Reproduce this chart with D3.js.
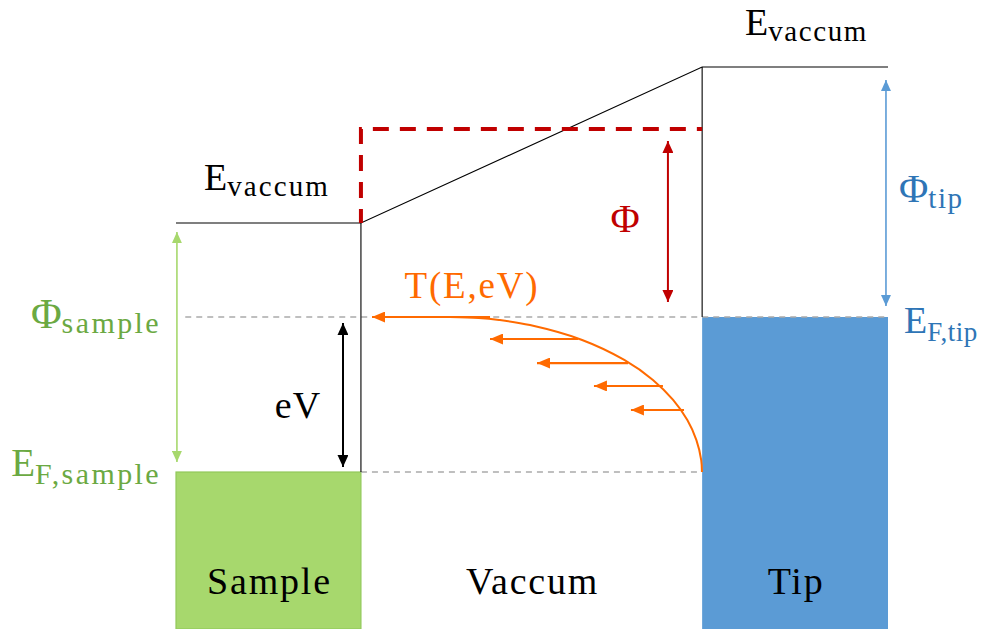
<!DOCTYPE html>
<html><head><meta charset="utf-8">
<script src="https://cdn.jsdelivr.net/npm/d3@7"></script>
<style>
html,body{margin:0;padding:0;background:#fff;}
svg{display:block;}
</style></head>
<body>
<script>
// ---- data ----
const regions = ["Sample", "Vaccum", "Tip"];
const regionEdges = [0, 1, 2.845, 3.85];          // position (arb. units)
const fermiLevels = [0, 1];                       // E_F sample, E_F tip (eV units)
const vacuumLevels = [1.606, 2.613];              // E_vac sample, E_vac tip
const barrierLevel = 2.213;                       // average barrier (dashed)
const bandBottom = -1.013;
const curveX = [2.844, 2.840, 2.814, 2.765, 2.688, 2.579, 2.424, 2.196, 1.914, 1.747, 1.636, 1.482];
const curveE = [0, 0.077, 0.206, 0.335, 0.465, 0.594, 0.723, 0.852, 0.948, 0.981, 0.994, 1.0];
const arrowE = [1.0, 0.858, 0.703, 0.555, 0.4];
const arrowStart = [1.698, 2.174, 2.444, 2.633, 2.747];
const arrowEnd = [1.06, 1.698, 1.952, 2.260, 2.460];
const gapArrowNames = ["sample", "phi", "tip", "eV"];
const gapArrowX = [0.005, 2.660, 3.839, 0.903];
const gapArrowFrom = [0, 1, 1, 0];
const gapArrowTo = [1.606, 2.213, 2.613, 1];

const W = 1005, H = 629;
const FONT = "'Liberation Serif', 'DejaVu Serif', serif";
const x = d3.scaleLinear().domain([0, 3.85]).range([176, 888]);
const y = d3.scaleLinear().domain([0, 1]).range([472, 317]);

const col = {
  green: "#A7D86D", greenDark: "#6BA942", greenEdge: "#92C95B",
  blue: "#5B9BD5", blueDark: "#2E75B6",
  red: "#C00000", orange: "#FF6A00", gray: "#AAAAAA"
};

const svg = d3.select("body").append("svg").attr("width", W).attr("height", H);
const defs = svg.append("defs");
function marker(id, color, w, h) {
  defs.append("marker").attr("id", id)
    .attr("viewBox", `0 0 ${w} ${h}`).attr("refX", w).attr("refY", h / 2)
    .attr("markerWidth", w).attr("markerHeight", h)
    .attr("markerUnits", "userSpaceOnUse").attr("orient", "auto-start-reverse")
    .append("path").attr("d", `M0,0L${w},${h/2}L0,${h}Z`).attr("fill", color);
}
marker("mGreen", col.green, 11, 10);
marker("mBlue", col.blue, 11, 10);
marker("mRed", col.red, 12, 11);
marker("mBlack", "#000", 12, 11);
marker("mOrange", col.orange, 13, 11);

// blocks
svg.append("rect").attr("x", x(regionEdges[0])).attr("y", y(fermiLevels[0]))
  .attr("width", x(regionEdges[1]) - x(regionEdges[0]))
  .attr("height", y(bandBottom) - y(fermiLevels[0]))
  .attr("fill", col.green).attr("stroke", col.greenEdge).attr("stroke-width", 1.2);
svg.append("rect").attr("x", x(regionEdges[2])).attr("y", y(fermiLevels[1]))
  .attr("width", x(regionEdges[3]) - x(regionEdges[2]))
  .attr("height", y(bandBottom) - y(fermiLevels[1]) + 2)
  .attr("fill", col.blue);

// gray dashed Fermi lines
svg.append("line").attr("x1", x(0.05)).attr("x2", x(regionEdges[3]))
  .attr("y1", y(fermiLevels[1])).attr("y2", y(fermiLevels[1]))
  .attr("stroke", col.gray).attr("stroke-width", 1.6).attr("stroke-dasharray", "6,5");
svg.append("line").attr("x1", x(regionEdges[1])).attr("x2", x(regionEdges[2]))
  .attr("y1", y(fermiLevels[0])).attr("y2", y(fermiLevels[0]))
  .attr("stroke", col.gray).attr("stroke-width", 1.6).attr("stroke-dasharray", "6,5");

// black potential lines
const line = d3.line().x(d => x(d[0])).y(d => y(d[1]));
svg.append("path").attr("d", line([[regionEdges[0], vacuumLevels[0]], [regionEdges[1], vacuumLevels[0]],
  [regionEdges[2], vacuumLevels[1]], [regionEdges[3], vacuumLevels[1]]]))
  .attr("fill", "none").attr("stroke", "#000").attr("stroke-width", 1.1);
svg.append("path").attr("d", line([[regionEdges[1], vacuumLevels[0]], [regionEdges[1], fermiLevels[0]]]))
  .attr("fill", "none").attr("stroke", "#000").attr("stroke-width", 1.1);
svg.append("path").attr("d", line([[regionEdges[2], vacuumLevels[1]], [regionEdges[2], fermiLevels[1]]]))
  .attr("fill", "none").attr("stroke", "#000").attr("stroke-width", 1.1);

// red dashed barrier
svg.append("path").attr("d", line([[regionEdges[1], vacuumLevels[0]], [regionEdges[1], barrierLevel], [regionEdges[2], barrierLevel]]))
  .attr("fill", "none").attr("stroke", col.red).attr("stroke-width", 4)
  .attr("stroke-dasharray", "16,11").attr("stroke-dashoffset", 2);

// gap arrows
const gapCols = [col.green, col.red, col.blue, "#000"];
const gapMarks = ["mGreen", "mRed", "mBlue", "mBlack"];
const gapWidth = [1.6, 2, 1.6, 2];
const padTop = [9, 12, 13, 6], padBot = [10, 15, 11, 5];
gapArrowNames.forEach((n, i) => {
  svg.append("line").attr("x1", x(gapArrowX[i])).attr("x2", x(gapArrowX[i]))
    .attr("y1", y(gapArrowFrom[i]) - padBot[i]).attr("y2", y(gapArrowTo[i]) + padTop[i])
    .attr("stroke", gapCols[i]).attr("stroke-width", gapWidth[i])
    .attr("marker-start", `url(#${gapMarks[i]})`).attr("marker-end", `url(#${gapMarks[i]})`);
});

// transmission curve
const pts = curveX.map((v, i) => [v, curveE[i]]);
svg.append("path").attr("d", d3.line().x(d => x(d[0])).y(d => y(d[1])).curve(d3.curveCatmullRom)(pts))
  .attr("fill", "none").attr("stroke", col.orange).attr("stroke-width", 2);
arrowE.forEach((e, i) => {
  svg.append("line").attr("x1", x(arrowStart[i])).attr("x2", x(arrowEnd[i]))
    .attr("y1", y(e)).attr("y2", y(e))
    .attr("stroke", col.orange).attr("stroke-width", 2.2)
    .attr("marker-end", "url(#mOrange)");
});

// labels
function label(xp, yp, main, sub, color, anchor, size, subSize, shift, ls, subLs) {
  const t = svg.append("text").attr("x", xp).attr("y", yp).attr("fill", color)
    .attr("font-family", FONT)
    .attr("text-anchor", anchor || "start").attr("font-size", (size || 38));
  t.append("tspan").attr("letter-spacing", ls || 0).text(main);
  if (sub) t.append("tspan").attr("dy", shift || 6).attr("font-size", (subSize || 29))
    .attr("letter-spacing", subLs == null ? 1.6 : subLs).text(sub);
  return t;
}
label(745, 35, "E", "vaccum", "#000");
label(204, 190, "E", "vaccum", "#000", "start", 38, 29, 6, 0, 2.1);
label(161, 328, "Φ", "sample", col.greenDark, "end", 42, 30, 5, 0, 2.4);
label(161, 476, "E", "F,sample", col.greenDark, "end", 39, 30, 8, 0, 2.4);
label(899, 202, "Φ", "tip", col.blueDark, "start", 40, 29, 6);
label(904, 333, "E", "F,tip", col.blueDark, "start", 38, 27, 8, 0, 0.5);
label(625, 232, "Φ", null, col.red, "middle", 40);
label(298, 418, "eV", null, "#000", "middle", 38, null, null, 1);
label(472, 298, "T(E,eV)", null, col.orange, "middle", 37, null, null, 1.8);

const centers = [0.5, (regionEdges[1] + regionEdges[2]) / 2, (regionEdges[2] + regionEdges[3]) / 2];
regions.forEach((r, i) => {
  svg.append("text").attr("x", x(centers[i]) + 1).attr("y", 594).attr("text-anchor", "middle")
    .attr("font-family", FONT).attr("font-size", 38).attr("letter-spacing", 1.8)
    .attr("fill", "#000").text(r);
});
</script>
</body></html>
